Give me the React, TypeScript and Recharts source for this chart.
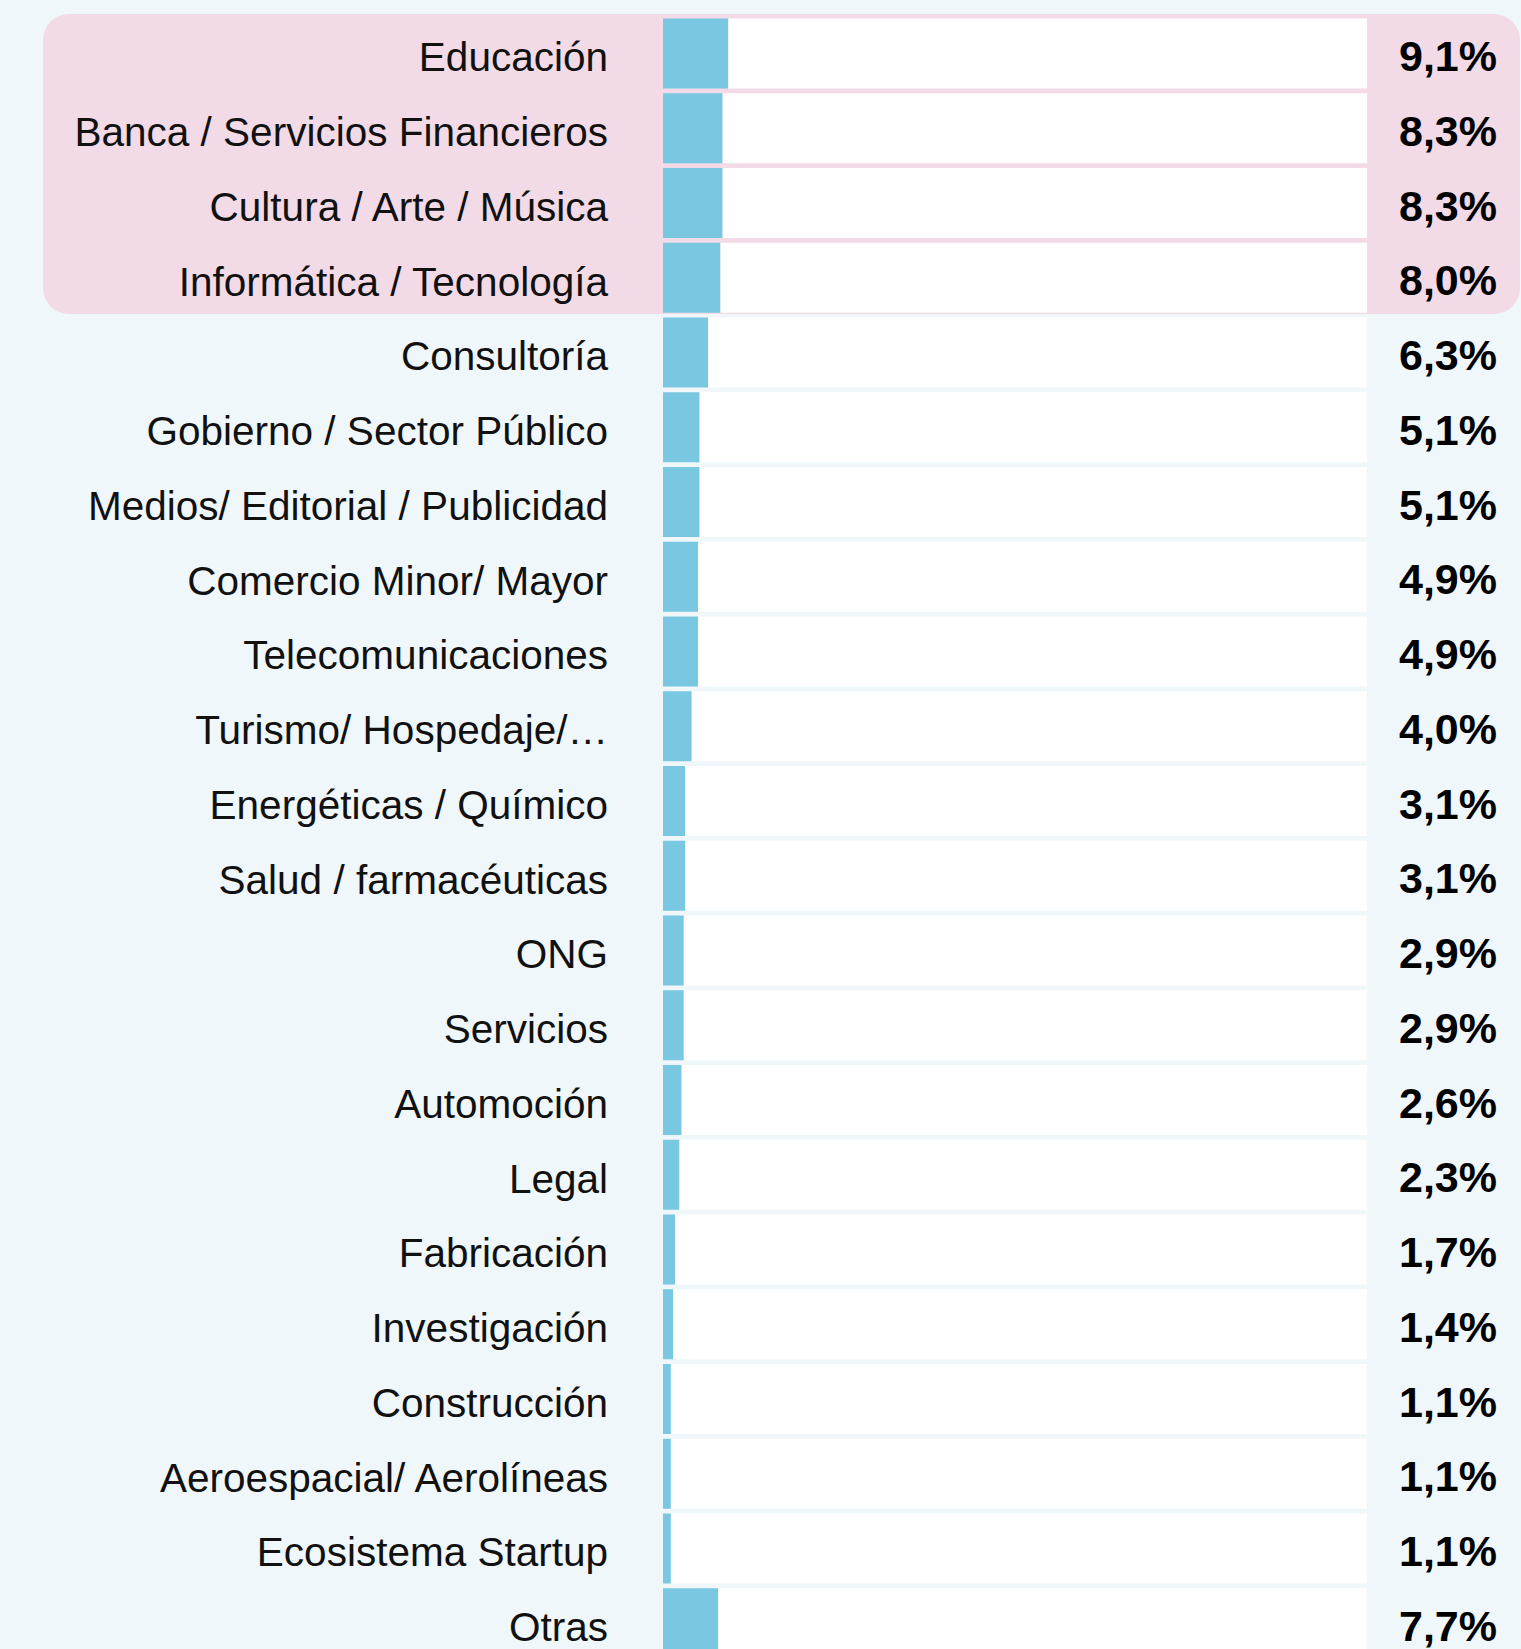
import { Bar, BarChart, LabelList, ReferenceArea, XAxis, YAxis } from "recharts";

const sectors = [
  "Educación",
  "Banca / Servicios Financieros",
  "Cultura / Arte / Música",
  "Informática / Tecnología",
  "Consultoría",
  "Gobierno / Sector Público",
  "Medios/ Editorial / Publicidad",
  "Comercio Minor/ Mayor",
  "Telecomunicaciones",
  "Turismo/ Hospedaje/…",
  "Energéticas / Químico",
  "Salud / farmacéuticas",
  "ONG",
  "Servicios",
  "Automoción",
  "Legal",
  "Fabricación",
  "Investigación",
  "Construcción",
  "Aeroespacial/ Aerolíneas",
  "Ecosistema Startup",
  "Otras",
];

const shares = [
  9.1, 8.3, 8.3, 8.0, 6.3, 5.1, 5.1, 4.9, 4.9, 4.0, 3.1, 3.1, 2.9, 2.9, 2.6,
  2.3, 1.7, 1.4, 1.1, 1.1, 1.1, 7.7,
];

const highlightFrom = "Educación";
const highlightTo = "Informática / Tecnología";

// the white track is the rest of the scale, stacked after the blue bar
const SCALE_MAX = 98;

const data = sectors.map((name, i) => ({
  name,
  value: shares[i],
  rest: SCALE_MAX - shares[i],
}));

const BG = "#f0f7fb";
const PINK = "#f2dae6";
const BLUE = "#7ac7e2";
const FONT = "'Liberation Sans', Arial, Helvetica, sans-serif";

const fmt = (v: number) => v.toFixed(1).replace(".", ",") + "%";

function CategoryTick(props: any) {
  const { x, y, payload } = props;
  return (
    <text
      x={x}
      y={y}
      dy={17.5}
      textAnchor="end"
      fontFamily={FONT}
      fontSize={40.5}
      fill="#111"
    >
      {payload.value}
    </text>
  );
}

function ValueLabel(props: any) {
  const { y, height, value } = props;
  return (
    <text
      x={1497}
      y={y + height / 2}
      dy={17.5}
      textAnchor="end"
      fontFamily={FONT}
      fontSize={43}
      fontWeight="bold"
      fill="#000"
    >
      {fmt(value)}
    </text>
  );
}

function HighlightBox(props: any) {
  const { y, height } = props;
  return (
    <rect
      x={43}
      y={y - 2.5}
      width={1477}
      height={height + 1}
      rx={26}
      ry={26}
      fill={PINK}
    />
  );
}

export default function App() {
  return (
    <div
      style={{
        position: "absolute",
        left: 0,
        top: 0,
        width: 1521,
        height: 1649,
        overflow: "hidden",
        background: BG,
      }}
    >
      <BarChart
        width={1521}
        height={1661}
        data={data}
        layout="vertical"
        margin={{ top: 16.5, right: 154, bottom: 0, left: 0 }}
      >
        <XAxis type="number" domain={[0, SCALE_MAX]} hide />
        <YAxis
          type="category"
          dataKey="name"
          width={663}
          axisLine={false}
          tickLine={false}
          tickSize={0}
          tickMargin={55}
          interval={0}
          tick={<CategoryTick />}
        />
        <ReferenceArea
          y1={highlightFrom}
          y2={highlightTo}
          ifOverflow="visible"
          shape={<HighlightBox />}
        />
        <Bar
          dataKey="value"
          stackId="row"
          fill={BLUE}
          barSize={70}
          isAnimationActive={false}
        >
          <LabelList dataKey="value" content={<ValueLabel />} />
        </Bar>
        <Bar
          dataKey="rest"
          stackId="row"
          fill="#ffffff"
          barSize={70}
          isAnimationActive={false}
        />
      </BarChart>
    </div>
  );
}
